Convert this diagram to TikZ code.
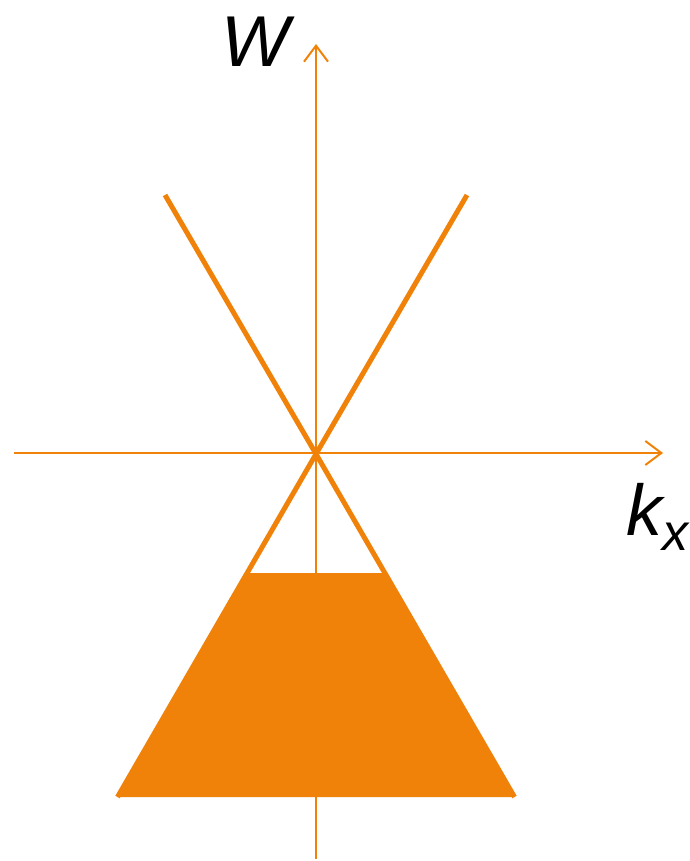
\documentclass[tikz,border=0pt]{standalone}
\usepackage{fontspec}
\setmainfont{Liberation Sans}
\usetikzlibrary{arrows.meta}
\definecolor{orng}{RGB}{240,130,10}
\tikzset{
  axis/.style={draw=orng, line width=2pt, -{Straight Barb[length=16pt,width=24pt,line width=2pt]}},
  band/.style={draw=orng, line width=5pt},
  lbl/.style={font=\fontsize{72}{80}\selectfont\itshape, text=black, inner sep=0pt}
}
\begin{document}
\begin{tikzpicture}[x=1pt,y=-1pt]
\useasboundingbox (0,0) rectangle (689,861);
\coordinate (O) at (316,454);
\coordinate (ybot) at (316,859);
\coordinate (ytop) at (316,44);
\coordinate (xl) at (14,453);
\coordinate (xr) at (663,453);
\coordinate (tl) at (165,195);
\coordinate (tr) at (467,195);
\coordinate (bl) at (117.5,797);
\coordinate (br) at (514.5,797);
\coordinate (ml) at (247.8,573);
\coordinate (mr) at (384.2,573);
% filled region
\fill[orng] (ml) -- (mr) -- (br) -- (bl) -- cycle;
% axes
\draw[axis] (ybot) -- (ytop);
\draw[axis] (xl) -- (xr);
% dispersion lines
\draw[band] (tl) -- (O) -- (br);
\draw[band] (tr) -- (O) -- (bl);
% labels
\node[lbl] (W) at (255,42) {W};
\node[lbl, anchor=base] (kx) at (657,535) {k\raisebox{-0.22em}{\fontsize{52}{60}\selectfont x}};
\end{tikzpicture}
\end{document}
